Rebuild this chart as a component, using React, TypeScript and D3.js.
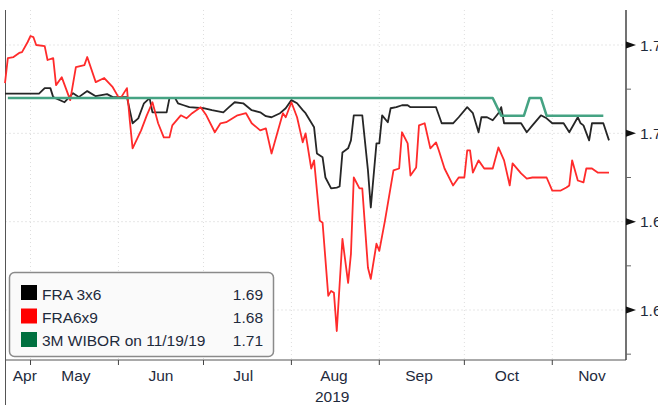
import React from "react";
import * as d3 from "d3";

const W = 658;
const H = 405;
const parse = d3.timeParse("%Y-%m-%d");

// FRA 3x6 (black)
const fra3x6: [string, number][] = [
  ["2019-04-22", 1.7225], ["2019-05-04", 1.7225], ["2019-05-06", 1.7256], ["2019-05-08", 1.7256],
  ["2019-05-09", 1.7205], ["2019-05-13", 1.7176], ["2019-05-16", 1.7227], ["2019-05-18", 1.7205],
  ["2019-05-21", 1.7239], ["2019-05-24", 1.721], ["2019-05-28", 1.7222], ["2019-05-30", 1.7205],
  ["2019-06-04", 1.7205], ["2019-06-06", 1.7057], ["2019-06-08", 1.7085], ["2019-06-10", 1.717],
  ["2019-06-12", 1.7199], ["2019-06-13", 1.7119], ["2019-06-16", 1.7119], ["2019-06-18", 1.7119],
  ["2019-06-19", 1.7199], ["2019-06-21", 1.7199], ["2019-06-22", 1.717], ["2019-06-24", 1.7159],
  ["2019-06-26", 1.7148], ["2019-07-01", 1.7142], ["2019-07-04", 1.7131], ["2019-07-08", 1.7119],
  ["2019-07-10", 1.7148], ["2019-07-12", 1.7176], ["2019-07-15", 1.717], ["2019-07-18", 1.7131],
  ["2019-07-21", 1.7119], ["2019-07-23", 1.7097], ["2019-07-25", 1.7091], ["2019-07-28", 1.7114],
  ["2019-07-30", 1.7142], ["2019-08-01", 1.7188], ["2019-08-03", 1.717], ["2019-08-05", 1.7131],
  ["2019-08-06", 1.7114], ["2019-08-09", 1.7034], ["2019-08-10", 1.6886], ["2019-08-12", 1.6864],
  ["2019-08-13", 1.675], ["2019-08-15", 1.6688], ["2019-08-17", 1.6693], ["2019-08-18", 1.6699],
  ["2019-08-19", 1.6892], ["2019-08-21", 1.6915], ["2019-08-22", 1.696], ["2019-08-23", 1.7102],
  ["2019-08-26", 1.7102], ["2019-08-28", 1.679], ["2019-08-29", 1.658], ["2019-08-31", 1.6943],
  ["2019-09-01", 1.6943], ["2019-09-02", 1.7102], ["2019-09-04", 1.7063], ["2019-09-05", 1.7142],
  ["2019-09-07", 1.7148], ["2019-09-09", 1.7159], ["2019-09-11", 1.7159], ["2019-09-12", 1.7148],
  ["2019-09-21", 1.7148], ["2019-09-23", 1.7057], ["2019-09-27", 1.7057], ["2019-09-29", 1.7091],
  ["2019-10-02", 1.7148], ["2019-10-04", 1.7114], ["2019-10-06", 1.7006], ["2019-10-07", 1.7091],
  ["2019-10-09", 1.7091], ["2019-10-11", 1.7074], ["2019-10-13", 1.7114], ["2019-10-14", 1.7148],
  ["2019-10-15", 1.7057], ["2019-10-21", 1.7057], ["2019-10-23", 1.7006], ["2019-10-25", 1.7045],
  ["2019-10-28", 1.7102], ["2019-10-30", 1.7085], ["2019-11-01", 1.7057], ["2019-11-05", 1.7057],
  ["2019-11-07", 1.7006], ["2019-11-10", 1.7091], ["2019-11-11", 1.7057], ["2019-11-12", 1.7045],
  ["2019-11-14", 1.696], ["2019-11-15", 1.7057], ["2019-11-19", 1.7057], ["2019-11-21", 1.696],
];

// FRA 6x9 (red)
const fra6x9: [string, number][] = [
  ["2019-04-22", 1.7284], ["2019-04-23", 1.7426], ["2019-04-25", 1.7432], ["2019-04-27", 1.7455],
  ["2019-04-28", 1.746], ["2019-04-30", 1.7517], ["2019-05-01", 1.7551], ["2019-05-02", 1.7545],
  ["2019-05-03", 1.75], ["2019-05-06", 1.7494], ["2019-05-07", 1.7415], ["2019-05-09", 1.7426],
  ["2019-05-10", 1.7273], ["2019-05-12", 1.7318], ["2019-05-15", 1.7188], ["2019-05-17", 1.7375],
  ["2019-05-20", 1.7386], ["2019-05-21", 1.7432], ["2019-05-24", 1.729], ["2019-05-27", 1.7313],
  ["2019-05-30", 1.7261], ["2019-06-01", 1.7205], ["2019-06-02", 1.7205], ["2019-06-04", 1.7256],
  ["2019-06-05", 1.7074], ["2019-06-06", 1.6915], ["2019-06-09", 1.7017], ["2019-06-11", 1.7102],
  ["2019-06-13", 1.7176], ["2019-06-15", 1.7057], ["2019-06-17", 1.6977], ["2019-06-19", 1.6977],
  ["2019-06-20", 1.7045], ["2019-06-23", 1.7102], ["2019-06-25", 1.7085], ["2019-06-27", 1.7114],
  ["2019-06-30", 1.7148], ["2019-07-02", 1.7102], ["2019-07-05", 1.7006], ["2019-07-07", 1.7057],
  ["2019-07-09", 1.7063], ["2019-07-13", 1.7102], ["2019-07-16", 1.7114], ["2019-07-18", 1.7057],
  ["2019-07-21", 1.7017], ["2019-07-23", 1.7028], ["2019-07-25", 1.6886], ["2019-07-27", 1.7],
  ["2019-07-29", 1.7114], ["2019-07-30", 1.7091], ["2019-08-01", 1.7176], ["2019-08-03", 1.7091],
  ["2019-08-05", 1.6949], ["2019-08-06", 1.7], ["2019-08-08", 1.6801], ["2019-08-09", 1.6847],
  ["2019-08-11", 1.6506], ["2019-08-12", 1.6494], ["2019-08-14", 1.608], ["2019-08-15", 1.6108],
  ["2019-08-16", 1.6097], ["2019-08-17", 1.5881], ["2019-08-19", 1.6403], ["2019-08-21", 1.6153],
  ["2019-08-22", 1.6318], ["2019-08-23", 1.675], ["2019-08-25", 1.6688], ["2019-08-26", 1.6688],
  ["2019-08-28", 1.6239], ["2019-08-29", 1.6176], ["2019-08-31", 1.6375], ["2019-09-01", 1.6335],
  ["2019-09-03", 1.6506], ["2019-09-06", 1.679], ["2019-09-08", 1.6801], ["2019-09-09", 1.7006],
  ["2019-09-11", 1.6943], ["2019-09-12", 1.6761], ["2019-09-14", 1.6807], ["2019-09-15", 1.7045],
  ["2019-09-17", 1.7057], ["2019-09-19", 1.6915], ["2019-09-21", 1.6949], ["2019-09-22", 1.6903],
  ["2019-09-24", 1.6801], ["2019-09-27", 1.6705], ["2019-09-29", 1.675], ["2019-10-01", 1.675],
  ["2019-10-02", 1.6903], ["2019-10-03", 1.6903], ["2019-10-04", 1.6778], ["2019-10-06", 1.6847],
  ["2019-10-08", 1.6801], ["2019-10-11", 1.6801], ["2019-10-13", 1.692], ["2019-10-15", 1.6847],
  ["2019-10-17", 1.6705], ["2019-10-18", 1.683], ["2019-10-21", 1.6773], ["2019-10-23", 1.6744],
  ["2019-10-25", 1.675], ["2019-10-30", 1.675], ["2019-11-01", 1.6676], ["2019-11-04", 1.6676],
  ["2019-11-06", 1.6693], ["2019-11-07", 1.6705], ["2019-11-08", 1.6847], ["2019-11-10", 1.6733],
  ["2019-11-12", 1.6722], ["2019-11-13", 1.6801], ["2019-11-15", 1.6801], ["2019-11-17", 1.6778],
  ["2019-11-21", 1.6778],
];

// 3M WIBOR (green)
const wibor3m: [string, number][] = [
  ["2019-04-23", 1.72], ["2019-10-11", 1.72], ["2019-10-14", 1.71], ["2019-10-22", 1.71],
  ["2019-10-24", 1.72], ["2019-10-28", 1.72], ["2019-10-30", 1.71], ["2019-11-19", 1.71],
];

const legendNames = ["FRA 3x6", "FRA6x9", "3M WIBOR on 11/19/19"];
const legendValues = ["1.69", "1.68", "1.71"];
const legendColors = ["#000000", "#ff0000", "#00703f"];

const monthLabels = ["Apr", "May", "Jun", "Jul", "Aug", "Sep", "Oct", "Nov"];
const monthLabelDates = [
  "2019-04-29", "2019-05-17", "2019-06-16", "2019-07-15",
  "2019-08-16", "2019-09-15", "2019-10-16", "2019-11-15",
];
const yMajor = [1.6, 1.65, 1.7, 1.75];
const yMinor = [1.575, 1.625, 1.675, 1.725];

const FONT = "'Liberation Sans', Arial, sans-serif";

export default function App() {
  const x = d3.scaleTime()
    .domain([parse("2019-04-22")!, parse("2019-11-27")!])
    .range([5, 626]);
  const y = d3.scaleLinear().domain([1.6, 1.75]).range([310, 45]);
  const line = d3.line<[string, number]>()
    .x(d => x(parse(d[0])!))
    .y(d => y(d[1]));

  const monthTicks = d3.timeMonth.range(parse("2019-05-01")!, parse("2019-11-02")!);
  const top = 10, bottom = 360, right = 626, left = 5.5;

  return (
    <svg width={W} height={H} style={{ position: "absolute", left: 0, top: 0, background: "#fff" }}
      fontFamily={FONT}>
      {/* gridlines */}
      {yMajor.map(v => (
        <line key={"g" + v} x1={left} x2={right} y1={y(v)} y2={y(v)}
          stroke="#cfcfcf" strokeDasharray="1,3" />
      ))}
      {monthTicks.map(d => (
        <line key={"v" + d} x1={x(d)} x2={x(d)} y1={top} y2={bottom}
          stroke="#dedede" strokeDasharray="1,3" />
      ))}

      {/* frame */}
      <line x1={left} x2={left} y1={top} y2={H} stroke="#555" strokeWidth={1} />
      <line x1={left} x2={right} y1={bottom} y2={bottom} stroke="#555" strokeWidth={1} />
      <line x1={right} x2={right} y1={top} y2={bottom} stroke="#444" strokeWidth={1.5} />

      {/* x ticks and labels */}
      {monthTicks.map(d => (
        <line key={"t" + d} x1={x(d)} x2={x(d)} y1={bottom} y2={bottom + 5} stroke="#444" />
      ))}
      {monthLabels.map((m, i) => (
        <text key={m} x={x(parse(monthLabelDates[i])!)} y={381} textAnchor="middle"
          fontSize={15.5} fill="#1e2a3c">{m}</text>
      ))}
      <text x={x(parse("2019-08-16")!) - 19} y={402} fontSize={15.5} fill="#1e2a3c">2019</text>

      {/* y axis */}
      {yMinor.map(v => (
        <line key={"m" + v} x1={right} x2={right + 5} y1={y(v)} y2={y(v)} stroke="#666" />
      ))}
      {yMajor.map(v => (
        <g key={"a" + v}>
          <path d={`M${right},${y(v) - 3.5} L${right + 10},${y(v)} L${right},${y(v) + 3.5} Z`} fill="#111" />
          <text x={640} y={y(v) + 5.5} fontSize={15.5} fill="#1e2a3c">{d3.format(".2f")(v)}</text>
        </g>
      ))}

      {/* series */}
      <path d={line(fra3x6)!} fill="none" stroke="#262626" strokeWidth={1.8} strokeLinejoin="round" />
      <path d={line(fra6x9)!} fill="none" stroke="#ff2b2b" strokeWidth={1.8} strokeLinejoin="round" />
      <path d={line(wibor3m)!} fill="none" stroke="#45a383" strokeWidth={2.5} strokeLinejoin="round" />

      {/* legend */}
      <rect x={9.5} y={272.5} width={264} height={84} rx={5} fill="#fafafa" stroke="#8a8a8a" strokeWidth={1.5} />
      {legendNames.map((n, i) => (
        <g key={n}>
          <rect x={21} y={285 + i * 23.5} width={16} height={15} fill={legendColors[i]} />
          <text x={42} y={299.5 + i * 23} fontSize={15.5} fill="#1e2a3c">{n}</text>
          <text x={263} y={299.5 + i * 23} fontSize={15.5} fill="#1e2a3c" textAnchor="end">{legendValues[i]}</text>
        </g>
      ))}
    </svg>
  );
}
